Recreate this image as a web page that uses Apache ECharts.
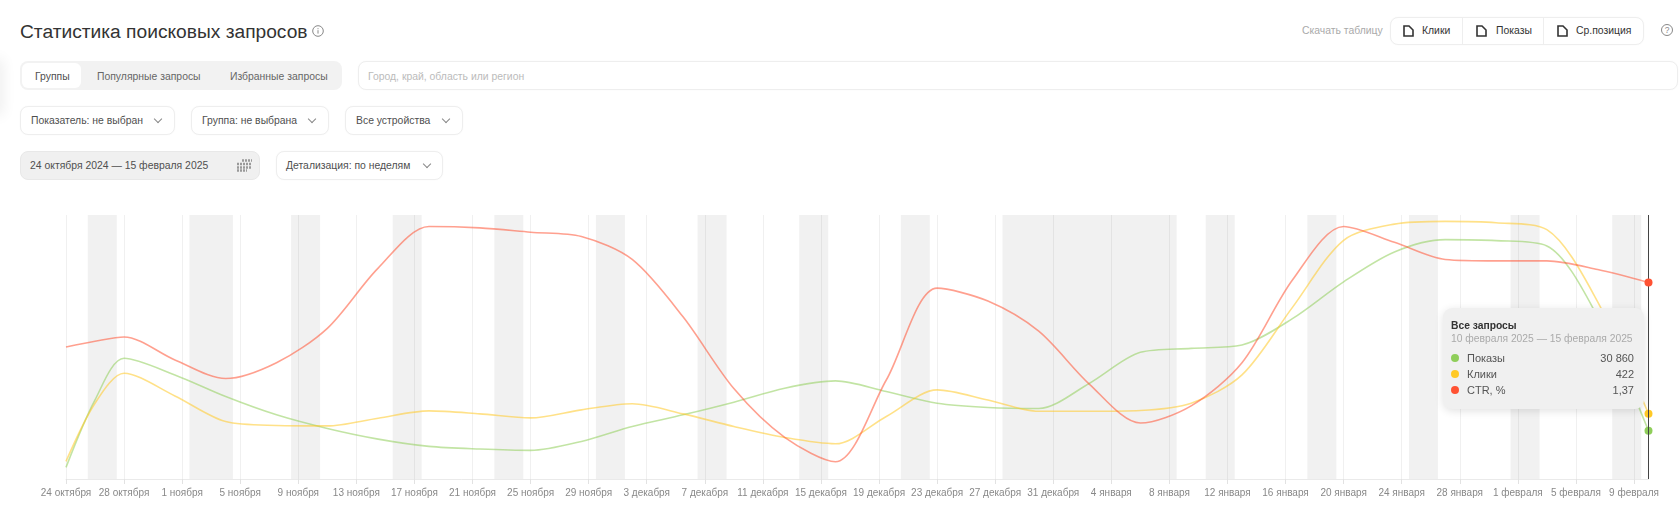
<!DOCTYPE html>
<html lang="ru">
<head>
<meta charset="utf-8">
<script src="https://cdn.jsdelivr.net/npm/echarts@6/dist/echarts.min.js"></script>
<style>
html,body{margin:0;padding:0;background:#fff;width:1680px;height:522px;overflow:hidden;font-family:"Liberation Sans",Arial,sans-serif;color:#333}
#chart{position:absolute;left:0;top:190px;width:1680px;height:332px}
.a{position:absolute;white-space:nowrap;box-sizing:border-box}
.t{font-size:10.4px;line-height:14px;color:#4f4f4f}
.box{border:1px solid #eeeeee;border-radius:8px;background:#fff;height:29px;box-shadow:0 0 2px rgba(0,0,0,.03)}
.chev{position:absolute;width:5px;height:5px;border-right:1px solid #888;border-bottom:1px solid #888;transform:rotate(45deg)}
svg{position:absolute}
</style>
</head>
<body>
<div class="a" style="left:-8px;top:62px;width:8px;height:50px;box-shadow:0 0 14px 3px rgba(0,0,0,.07)"></div>
<div class="a" style="left:20px;top:20px;font-size:19.2px;line-height:24px;color:#333">Статистика поисковых запросов</div>
<svg style="left:312px;top:25px" width="12" height="12" viewBox="0 0 12 12"><circle cx="6" cy="6" r="5.300" fill="none" stroke="#888"/><path d="M6 5.200v3.400M6 3.200v1" stroke="#888"/></svg>

<div class="a" style="left:20px;top:61px;width:322px;height:29px;background:#f2f2f2;border-radius:8px"></div>
<div class="a" style="left:22px;top:63px;width:59px;height:25px;background:#fff;border-radius:6px"></div>
<div class="a t" style="left:35px;top:70px">Группы</div>
<div class="a t" style="left:97px;top:70px;color:#666">Популярные запросы</div>
<div class="a t" style="left:230px;top:70px;color:#666">Избранные запросы</div>
<div class="a box" style="left:358px;top:61px;width:1320px"></div>
<div class="a t" style="left:368px;top:70px;color:#bbb">Город, край, область или регион</div>

<div class="a box" style="left:20px;top:106px;width:155px"></div>
<div class="a t" style="left:31px;top:114px">Показатель: не выбран</div>
<div class="chev" style="left:155px;top:116px"></div>
<div class="a box" style="left:191px;top:106px;width:138px"></div>
<div class="a t" style="left:202px;top:114px">Группа: не выбрана</div>
<div class="chev" style="left:309px;top:116px"></div>
<div class="a box" style="left:345px;top:106px;width:118px"></div>
<div class="a t" style="left:356px;top:114px">Все устройства</div>
<div class="chev" style="left:443px;top:116px"></div>

<div class="a" style="left:20px;top:151px;width:240px;height:29px;background:#f0f0f0;border:1px solid #e8e8e8;border-radius:8px"></div>
<div class="a t" style="left:30px;top:159px">24 октября 2024 — 15 февраля 2025</div>
<svg style="left:236px;top:159px" width="16" height="13" viewBox="0 0 16 13"><path d="M6 1.500h10M1 5h15M1 8.500h15M1 11.500h10" stroke="#999" stroke-width="2.400" stroke-dasharray="2 1"/></svg>
<div class="a box" style="left:276px;top:151px;width:167px"></div>
<div class="a t" style="left:286px;top:159px">Детализация: по неделям</div>
<div class="chev" style="left:424px;top:161px"></div>

<div class="a t" style="left:1302px;top:24px;color:#aaa">Скачать таблицу</div>
<div class="a box" style="left:1390px;top:17px;width:254px;height:28px"></div>
<div class="a" style="left:1462px;top:18px;width:1px;height:26px;background:#eee"></div>
<div class="a" style="left:1543px;top:18px;width:1px;height:26px;background:#eee"></div>
<svg style="left:1403px;top:25px" width="11" height="12" viewBox="0 0 11 12"><path d="M1 1h5l4 4v6H1z" fill="none" stroke="#333" stroke-width="1.600"/></svg>
<svg style="left:1476px;top:25px" width="11" height="12" viewBox="0 0 11 12"><path d="M1 1h5l4 4v6H1z" fill="none" stroke="#333" stroke-width="1.600"/></svg>
<svg style="left:1557px;top:25px" width="11" height="12" viewBox="0 0 11 12"><path d="M1 1h5l4 4v6H1z" fill="none" stroke="#333" stroke-width="1.600"/></svg>
<div class="a t" style="left:1422px;top:24px;color:#333">Клики</div>
<div class="a t" style="left:1496px;top:24px;color:#333">Показы</div>
<div class="a t" style="left:1576px;top:24px;color:#333">Ср.позиция</div>
<svg style="left:1660px;top:23px" width="14" height="14" viewBox="0 0 14 14"><circle cx="7" cy="7" r="5.500" fill="none" stroke="#888"/><text x="7" y="10" font-size="8.500" text-anchor="middle" fill="#888" font-family="Liberation Sans">?</text></svg>

<div id="chart"></div>
<script>
var days = [0,2,4,7.5,11,14.5,18,21.5,25,28.5,32,35.5,39,42.5,46,49.5,53,56.5,60,63.5,67,70.5,74,77.5,81,84.5,88,91.5,95,98.5,102,105.5,109];
var shows = [7448,50646,77246,66606,52774,41070,32346,25536,20854,19152,18301,24046,33622,41070,49157,58094,62776,55966,48518,45752,45114,61286,81077,83630,85758,102782,126190,145342,153216,152578,149173,103846,30860];
var clicks = [114,491,685,538,372,347,344,394,441,422,396,448,487,422,340,269,228,405,577,512,439,439,444,491,674,1115,1546,1651,1669,1660,1615,1148,422];
var ctr = [0.92,0.96,0.99,0.83,0.70,0.81,1.05,1.47,1.76,1.75,1.72,1.69,1.53,1.13,0.63,0.29,0.12,0.69,1.33,1.24,1.03,0.66,0.39,0.51,0.81,1.39,1.76,1.65,1.53,1.52,1.52,1.46,1.37];
var tickLabels = ['24 октября','28 октября','1 ноября','5 ноября','9 ноября','13 ноября','17 ноября','21 ноября','25 ноября','29 ноября','3 декабря','7 декабря','11 декабря','15 декабря','19 декабря','23 декабря','27 декабря','31 декабря','4 января','8 января','12 января','16 января','20 января','24 января','28 января','1 февраля','5 февраля','9 февраля'];
var weekends = [[1.5,3.5],[8.5,11.5],[15.5,17.5],[22.5,24.5],[29.5,31.5],[36.5,38.5],[43.5,45.5],[50.5,52.5],[57.5,59.5],[64.5,76.5],[78.5,80.5],[85.5,87.5],[92.5,94.5],[99.5,101.5],[106.5,108.5]];
var seriesNames = ['Показы','Клики','CTR, %'];
var seriesColors = ['#8fce5a','#ffc926','#ff5233'];
var tipTitle = 'Все запросы';
var tipPeriod = '10 февраля 2025 — 15 февраля 2025';
var tipValues = ['30 860','422','1,37'];
var axisMax = [168960,1710,1.84];
var values = [shows,clicks,ctr];

var chart = echarts.init(document.getElementById('chart'));
function makeSeries(i){
  var last = days.length-1;
  var s = {
    name:seriesNames[i], type:'line', yAxisIndex:i, smooth:0.3, clip:false,
    showAllSymbol:true, animation:false, z:3+i,
    lineStyle:{color:seriesColors[i],width:1.6,opacity:0.55},
    itemStyle:{color:seriesColors[i]},
    emphasis:{disabled:true},
    data:days.map(function(d,k){
      return k===last ? {value:[d,values[i][k]],symbol:'circle',symbolSize:8} : {value:[d,values[i][k]],symbol:'none'};
    })
  };
  if(i===0){
    s.markArea={silent:true,itemStyle:{color:'rgba(0,0,0,0.055)'},data:weekends.map(function(w){return [{xAxis:w[0]},{xAxis:w[1]}];})};
    s.markLine={silent:true,symbol:'none',label:{show:false},lineStyle:{color:'#444',width:1,type:'solid',opacity:1},data:[{xAxis:days[last]}]};
  }
  return s;
}
function tipHtml(){
  var rows = seriesNames.map(function(n,i){
    return '<div style="display:flex;align-items:center;height:16px;color:#555;font-size:11px">'+
      '<span style="width:8px;height:8px;border-radius:50%;background:'+seriesColors[i]+';margin-right:8px"></span>'+
      '<span style="flex:1">'+n+'</span><span>'+tipValues[i]+'</span></div>';
  }).join('');
  return '<div style="font-size:10.3px;line-height:13px;font-family:Liberation Sans,Arial,sans-serif">'+
    '<div style="font-weight:bold;color:#333">'+tipTitle+'</div>'+
    '<div style="color:#aaa;margin-bottom:5px">'+tipPeriod+'</div>'+rows+'</div>';
}
chart.setOption({
  animation:false,
  grid:{left:66,right:31.5,top:25,bottom:43,containLabel:false},
  tooltip:{
    trigger:'item',alwaysShowContent:true,showDelay:0,transitionDuration:0,
    backgroundColor:'#f0f0f0',borderWidth:0,borderRadius:9,padding:[11,10,10,8],
    extraCssText:'box-shadow:0 2px 8px rgba(0,0,0,.12);width:201px;height:101px;box-sizing:border-box;',
    position:function(){return [1443,118];},
    formatter:tipHtml
  },
  xAxis:{
    type:'value',min:0,max:109,interval:4,
    axisLine:{show:true,lineStyle:{color:'#eaeaea',width:1}},
    axisTick:{show:true,length:5,lineStyle:{color:'#e2e2e2'}},
    splitLine:{show:true,lineStyle:{color:'rgba(0,0,0,0.06)',width:1}},
    axisLabel:{show:true,color:'#888',fontSize:10,margin:9,fontFamily:'Liberation Sans',showMaxLabel:false,
      formatter:function(v){return tickLabels[v/4]||'';}}
  },
  yAxis:[0,1,2].map(function(i){return {type:'value',show:false,min:0,max:axisMax[i],splitLine:{show:false}};}),
  series:[0,1,2].map(makeSeries)
});
chart.dispatchAction({type:'showTip',seriesIndex:0,dataIndex:days.length-1});
</script>
</body>
</html>
